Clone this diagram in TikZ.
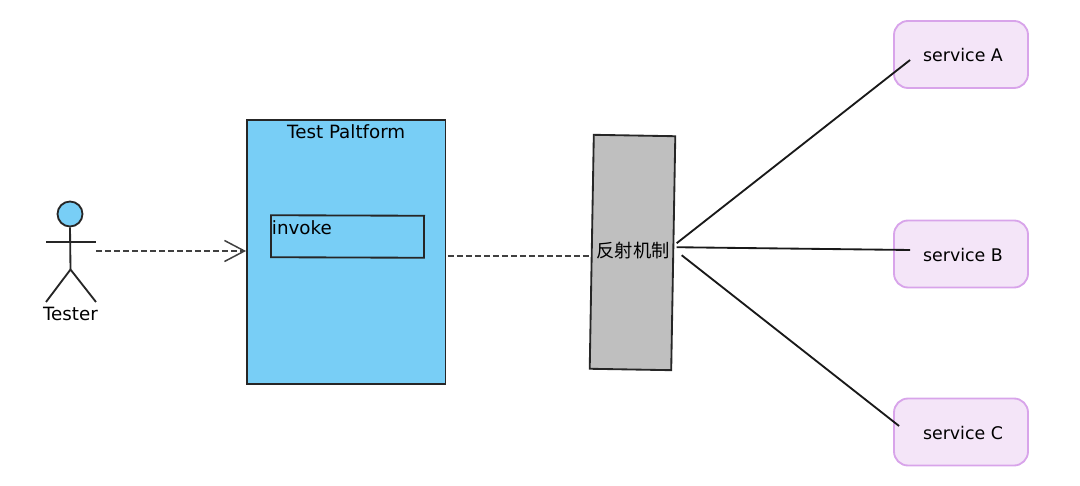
\documentclass[tikz,border=0pt]{standalone}
\usepackage{xcolor}
\usepackage{fontspec}
\setmainfont{DejaVu Sans}
\newfontfamily\cjkfont{Noto Sans CJK SC}
\usetikzlibrary{positioning}
\usetikzlibrary{arrows.meta}

\definecolor{skyfill}{HTML}{78CEF6}
\definecolor{greyfill}{HTML}{BFBFBF}
\definecolor{lilacfill}{HTML}{F4E5F8}
\definecolor{lilacline}{HTML}{D8A4EA}

\begin{document}
\begin{tikzpicture}[
    line width=1.05pt,
    font=\fontsize{10.4pt}{12pt}\selectfont,
    panel/.style={rectangle, draw=black!85, fill=skyfill, inner sep=0pt},
    service/.style={rectangle, rounded corners=0.28cm, draw=lilacline, fill=lilacfill, minimum width=2.68cm, minimum height=1.34cm, font=\fontsize{9.9pt}{12pt}\selectfont, text height=0.33cm, text depth=0.03cm, execute at begin node=\hspace{0.08cm}},
    dashline/.style={draw=black!75, line width=1.15pt, dash pattern=on 0.115cm off 0.065cm},
    link/.style={draw=black!90}
]
\useasboundingbox (0,0) rectangle (21.6,9.7);

% Tester
\node[circle, draw=black!85, fill=skyfill, minimum size=0.5cm, inner sep=0pt] (head) at (1.40,5.42) {};
\coordinate (hip) at (1.41,4.31);
\draw[black!85] (head.south) -- (hip);
\draw[black!85, line width=1.25pt] (0.92,4.86) -- (1.92,4.86);
\draw[black!85] (0.92,3.66) -- (hip) -- (1.92,3.66);
\node (tester) at (1.41,3.42) {Tester};
\coordinate (testerhand) at (1.92,4.68);

% Test platform
\node[panel, minimum width=3.97cm, minimum height=5.28cm] (platform) at (6.925,4.66) {};
\node[below=0.05cm of platform.north, inner sep=1pt] (platformlabel) {Test Paltform};
\node[panel, rotate=-0.2, minimum width=3.06cm, minimum height=0.84cm] (invoke) at (6.95,4.97) {};
\node[anchor=north west, inner sep=0pt] (invokelabel) at (5.42,5.31) {invoke};

% Reflection layer
\node[rectangle, rotate=-1, draw=black!85, fill=greyfill, minimum width=1.63cm, minimum height=4.68cm] (mech) at (12.65,4.65) {};
\node[inner sep=0pt] (mechlabel) at (12.66,4.69) {\cjkfont 反射机制};

% Services
\node[service] (serviceA) at (19.22,8.61) {service A};
\node[service] (serviceB) at (19.22,4.62) {service B};
\node[service] (serviceC) at (19.22,1.06) {service C};

% Arrows
\draw[dashline, -{Straight Barb[length=0.4cm, width=0.42cm, line width=0.85pt]}] (testerhand) -- (platform.west |- testerhand);
\draw[dashline] ([shift={(0.03,-0.08)}]platform.east) -- ([yshift=-0.08cm]platform.east -| mech.west);
\draw[link] ([shift={(0.05,0.2)}]mech.east) -- ([shift={(0.34,-0.11)}]serviceA.west);
\draw[link] ([shift={(0.05,0.12)}]mech.east) -- ([shift={(0.34,0.08)}]serviceB.west);
\draw[link] ([shift={(0.15,-0.04)}]mech.east) -- ([shift={(0.12,0.12)}]serviceC.west);

\end{tikzpicture}
\end{document}
